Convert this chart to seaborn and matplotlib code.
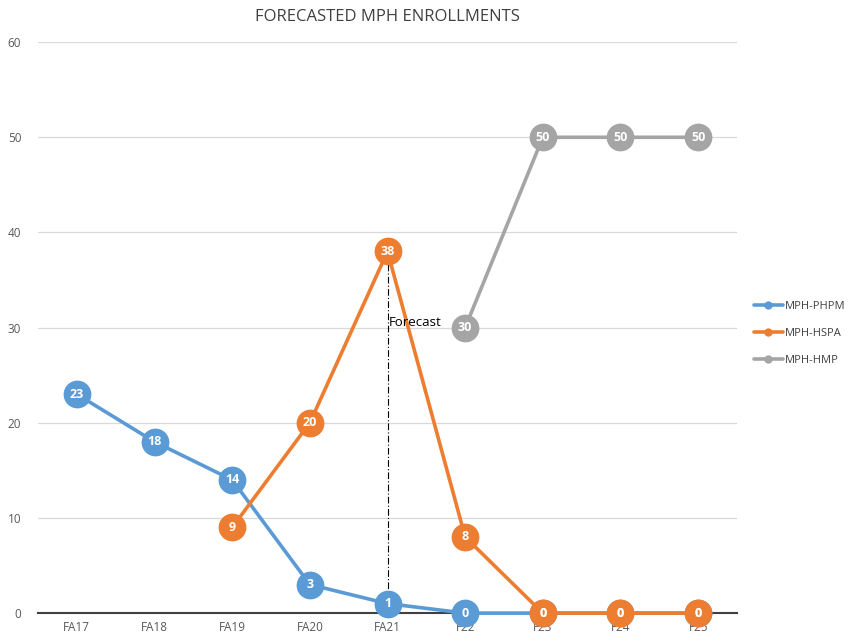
"""
Forecasted MPH enrollments - line chart with labelled markers
"""
import matplotlib
matplotlib.use("Agg")
import matplotlib.pyplot as plt
from matplotlib.lines import Line2D
import seaborn as sns
import numpy as np
import pandas as pd

# Datos
terms = ["FA17", "FA18", "FA19", "FA20", "FA21", "F22", "F23", "F24", "F25"]
phpm = [23, 18, 14, 3, 1, 0, 0, 0, 0]
hspa = [np.nan, np.nan, 9, 20, 38, 8, 0, 0, 0]
hmp = [np.nan, np.nan, np.nan, np.nan, np.nan, 30, 50, 50, 50]
series_names = ["MPH-PHPM", "MPH-HSPA", "MPH-HMP"]
colors = ["#5B9BD5", "#ED7D31", "#A5A5A5"]

rows = []
for name, vals in zip(series_names, [phpm, hspa, hmp]):
    for i, (t, v) in enumerate(zip(terms, vals)):
        rows.append({"pos": i, "term": t, "series": name, "value": v})
df = pd.DataFrame(rows).dropna()

sns.set_style("white")
plt.rcParams["font.family"] = ["Open Sans", "DejaVu Sans"]

fig = plt.figure(figsize=(8.51, 6.38), dpi=100)
ax = fig.add_axes([0.0447, 0.039, 0.8213, 0.895])

sns.lineplot(data=df, x="pos", y="value", hue="series", hue_order=series_names,
             palette=colors, linewidth=2.6, marker="o", markersize=20,
             markeredgewidth=0, sort=False, legend=False, ax=ax, zorder=3)

# Etiquetas dentro de los marcadores
for name, vals in zip(series_names, [phpm, hspa, hmp]):
    for i, v in enumerate(vals):
        if np.isnan(v):
            continue
        ax.text(i, v, f"{int(v)}", ha="center", va="center", color="white",
                fontsize=9, fontweight="bold", zorder=5)

# Línea de pronóstico
ax.vlines(4, 0, hspa[4], colors="black", linestyles=(0, (6, 2, 1, 2)),
          linewidth=0.8, zorder=2)
ax.text(4.02, 29.9, "Forecast", ha="left", va="bottom", fontsize=9.5, color="black", zorder=6)

ax.set_xlim(-0.5, len(terms) - 0.5)
ax.set_ylim(0, 60)
ax.set_xticks(range(len(terms)))
ax.set_xticklabels(terms)
ax.set_yticks(range(0, 61, 10))
ax.tick_params(axis="both", length=0, labelsize=8.5, colors="#595959")
ax.tick_params(axis="x", pad=6)
ax.tick_params(axis="y", pad=12)
ax.set_xlabel("")
ax.set_ylabel("")
ax.yaxis.grid(True, color="#D9D9D9", linewidth=0.9, zorder=0)
ax.set_axisbelow(True)
for side in ["top", "right", "left"]:
    ax.spines[side].set_visible(False)
ax.spines["bottom"].set_color("#404040")
ax.spines["bottom"].set_linewidth(1.5)
for line in ax.lines:
    line.set_clip_on(False)

ax.set_title("FORECASTED MPH ENROLLMENTS", fontsize=12, color="#404040", pad=15)

handles = [Line2D([0], [0], color=c, linewidth=2.6, marker="o", markersize=5)
           for c in colors]
leg = ax.legend(handles, series_names, loc="center left", bbox_to_anchor=(1.01, 0.49),
                frameon=False, fontsize=8, handlelength=2.6, labelspacing=1.45,
                handletextpad=0.2)
for t in leg.get_texts():
    t.set_color("#404040")

plt.savefig("out.png", dpi=100)
